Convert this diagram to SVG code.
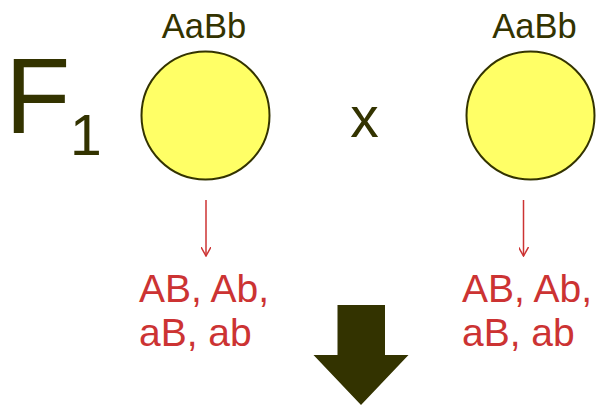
<svg xmlns="http://www.w3.org/2000/svg" width="598" height="409" viewBox="0 0 598 409">
<style>
.dk{fill:#333300;font-family:"Liberation Sans",Arial,sans-serif}
.rd{fill:#cc3333;font-family:"Liberation Sans",Arial,sans-serif;font-size:39px}
.cell{fill:#ffff66;stroke:#333300;stroke-width:2}
.ln{stroke:#cc3333;stroke-width:1.5;fill:none}
</style>
<defs>
<marker id="ah" viewBox="0 0 10 10" refX="9" refY="5" markerWidth="10" markerHeight="10" markerUnits="userSpaceOnUse" orient="auto">
<path d="M0,0 L9,5 L0,10" fill="none" stroke="#cc3333" stroke-width="1.5"/>
</marker>
</defs>
<rect width="598" height="409" fill="#ffffff"/>
<g id="label-f1">
<text class="dk" x="5" y="133" font-size="107">F</text>
<text class="dk" x="70" y="155" font-size="57">1</text>
</g>
<g id="parent1">
<text class="dk" x="204" y="38" font-size="34.5" text-anchor="middle">AaBb</text>
<circle class="cell" cx="205.5" cy="115.5" r="64"/>
</g>
<g id="cross">
<text class="dk" x="364.5" y="137" font-size="57" text-anchor="middle">x</text>
</g>
<g id="parent2">
<text class="dk" x="534.5" y="38" font-size="34.5" text-anchor="middle">AaBb</text>
<circle class="cell" cx="530.5" cy="115.5" r="64"/>
</g>
<g id="gametes1">
<text class="rd" x="139" y="301.5">AB, Ab,</text>
<text class="rd" x="139" y="346">aB, ab</text>
</g>
<g id="gametes2">
<text class="rd" x="462" y="301.5">AB, Ab,</text>
<text class="rd" x="462" y="346">aB, ab</text>
</g>
<g id="connectors">
<line class="ln" x1="206" y1="200" x2="206" y2="256" marker-end="url(#ah)"/>
<line class="ln" x1="523.5" y1="200" x2="523.5" y2="256" marker-end="url(#ah)"/>
</g>
<g id="big-arrow">
<polygon points="337.5,305 385,305 385,355 408.5,355 361,405 313.5,355 337.5,355" fill="#333300"/>
</g>
</svg>
